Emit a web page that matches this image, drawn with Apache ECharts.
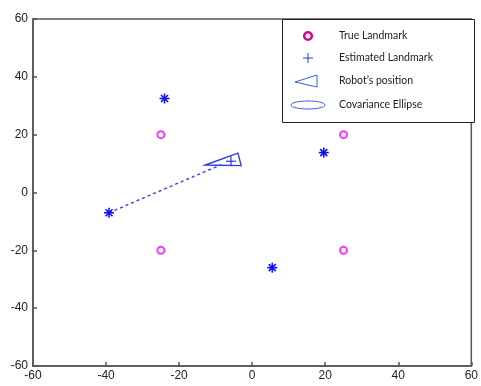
<!DOCTYPE html>
<html>
<head>
<meta charset="utf-8">
<script src="https://cdn.jsdelivr.net/npm/echarts@6/dist/echarts.min.js"></script>
<style>html,body{margin:0;padding:0;background:#fff}#c{width:481px;height:386px}</style>
</head>
<body>
<div id="c"></div>
<script>
// Data
var axisTicks = [-60, -40, -20, 0, 20, 40, 60];
var trueLandmarks = [[-25, 20], [25, 20], [-25, -20], [25, -20]];
var estimatedLandmarks = [[-24, 32.5], [-39.2, -7], [19.6, 13.8], [5.5, -26]];
var robotPose = [[-5.8, 10.8]];
var robotTriangle = [[-12.8, 9.5], [-3.9, 13.6], [-3.0, 9.3]];
var observationLine = [[-39.2, -7], [-8.5, 9.6]];
var legendLabels = ['True Landmark', 'Estimated Landmark', "Robot\u2019s position", 'Covariance Ellipse'];

var chart = echarts.init(document.getElementById('c'), null, {renderer: 'canvas'});

function axisCfg(pos) {
  return {
    type: 'value', min: -60, max: 60, interval: 20, position: pos,
    axisLine: {show: true, onZero: false, lineStyle: {color: '#555', width: 1.5}},
    axisTick: {show: true, inside: true, length: 4, lineStyle: {color: '#555', width: 1.5}},
    splitLine: {show: false},
    axisLabel: {color: '#222', fontFamily: 'Liberation Sans, Arial', fontSize: 12, margin: 3,
      formatter: function (v) { return String(v); }}
  };
}

var xa = axisCfg('bottom');
xa.axisLabel.margin = 4;
var ya = axisCfg('left');
ya.axisLabel.margin = 5;

var lx = 282, ly = 19, lw = 192, lh = 103;
var rowY = [36, 58, 81, 105];
var iconX = 308, textX = 339;

var graphics = [
  {type: 'rect', shape: {x: lx + 0.5, y: ly + 0.5, width: lw, height: lh}, style: {fill: '#fff', stroke: '#222', lineWidth: 1}, z: 100},
  {type: 'circle', shape: {cx: iconX, cy: rowY[0], r: 3.8}, style: {fill: 'none', stroke: '#d6068e', lineWidth: 2.6}, z: 101},
  {type: 'line', shape: {x1: iconX - 5, y1: rowY[1], x2: iconX + 5, y2: rowY[1]}, style: {stroke: '#1f3fd6', lineWidth: 1}, z: 101},
  {type: 'line', shape: {x1: iconX, y1: rowY[1] - 5, x2: iconX, y2: rowY[1] + 5}, style: {stroke: '#1f3fd6', lineWidth: 1}, z: 101},
  {type: 'polygon', shape: {points: [[iconX - 13, rowY[2] + 1], [iconX + 9, rowY[2] - 6], [iconX + 9, rowY[2] + 6]]}, style: {fill: 'none', stroke: '#3a60e0', lineWidth: 1}, z: 101},
  {type: 'ellipse', shape: {cx: iconX, cy: rowY[3], rx: 17, ry: 4}, style: {fill: 'none', stroke: '#3a60e0', lineWidth: 1}, z: 101}
];
for (var i = 0; i < legendLabels.length; i++) {
  graphics.push({type: 'text', x: textX, y: rowY[i], style: {text: legendLabels[i], fill: '#222', font: '10.5px Lato, "Open Sans", sans-serif', textVerticalAlign: 'middle', verticalAlign: 'middle'}, z: 101});
}

function drawStar(params, api) {
  var p = api.coord([api.value(0), api.value(1)]);
  var a = 5, b = 3.5;
  var st = {stroke: '#1010ee', lineWidth: 1.6};
  return {type: 'group', children: [
    {type: 'line', shape: {x1: p[0] - a, y1: p[1], x2: p[0] + a, y2: p[1]}, style: st},
    {type: 'line', shape: {x1: p[0], y1: p[1] - a, x2: p[0], y2: p[1] + a}, style: st},
    {type: 'line', shape: {x1: p[0] - b, y1: p[1] - b, x2: p[0] + b, y2: p[1] + b}, style: st},
    {type: 'line', shape: {x1: p[0] - b, y1: p[1] + b, x2: p[0] + b, y2: p[1] - b}, style: st}
  ]};
}

function drawPlus(params, api) {
  var p = api.coord([api.value(0), api.value(1)]);
  var a = 5;
  var st = {stroke: '#2233ee', lineWidth: 1.2};
  return {type: 'group', children: [
    {type: 'line', shape: {x1: p[0] - a, y1: p[1], x2: p[0] + a, y2: p[1]}, style: st},
    {type: 'line', shape: {x1: p[0], y1: p[1] - a, x2: p[0], y2: p[1] + a}, style: st}
  ]};
}

function drawTriangle(params, api) {
  if (params.dataIndex !== 0) return;
  var pts = robotTriangle.map(function (d) { return api.coord(d); });
  return {type: 'polygon', shape: {points: pts}, style: {fill: 'none', stroke: '#2a3ff0', lineWidth: 1.4}};
}

chart.setOption({
  animation: false,
  backgroundColor: '#fff',
  grid: {left: 33, right: 7, top: 19, bottom: 20, show: true, borderColor: '#555', borderWidth: 1.5},
  xAxis: xa,
  yAxis: ya,
  series: [
    {type: 'line', data: observationLine, symbol: 'none', lineStyle: {color: '#3a3af0', width: 1.4, type: [3, 3]}, z: 2},
    {type: 'custom', renderItem: drawTriangle, data: robotTriangle, z: 3},
    {type: 'custom', renderItem: drawPlus, data: robotPose, z: 4},
    {type: 'scatter', data: trueLandmarks, symbol: 'circle', symbolSize: 7,
      itemStyle: {color: 'rgba(0,0,0,0)', borderColor: '#ff00ff', borderWidth: 2}, z: 5},
    {type: 'custom', renderItem: drawStar, data: estimatedLandmarks, z: 6}
  ],
  graphic: graphics
});
</script>
</body>
</html>
